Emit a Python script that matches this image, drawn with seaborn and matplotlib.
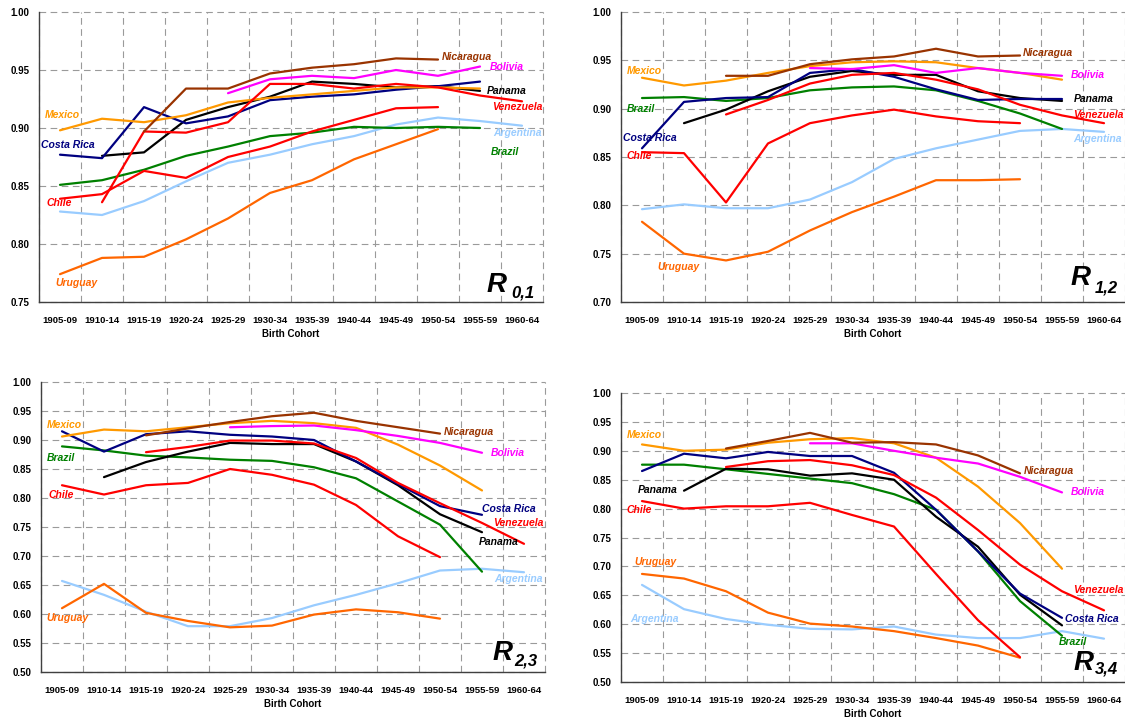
import numpy as np
import pandas as pd
import matplotlib
matplotlib.use("Agg")
import matplotlib.pyplot as plt
import seaborn as sns

# Cohortes de nacimiento (eje x)
cohorts = ['1905-09', '1910-14', '1915-19', '1920-24', '1925-29', '1930-34',
           '1935-39', '1940-44', '1945-49', '1950-54', '1955-59', '1960-64']

countries = ['Argentina', 'Uruguay', 'Brazil', 'Chile', 'Panama', 'Costa Rica',
             'Mexico', 'Venezuela', 'Bolivia', 'Nicaragua']

colors = {
    'Mexico': '#FF9900', 'Costa Rica': '#000080', 'Panama': '#000000',
    'Nicaragua': '#993300', 'Bolivia': '#FF00FF', 'Venezuela': '#FF0000',
    'Chile': '#FF0000', 'Brazil': '#008000', 'Argentina': '#99CCFF',
    'Uruguay': '#FF6600',
}

N = np.nan

# R 0,1
r01 = {
    'Mexico':     [0.898, 0.908, 0.905, 0.911, 0.922, 0.926, 0.929, 0.932, 0.935, 0.935, 0.934, N],
    'Costa Rica': [0.877, 0.874, 0.918, 0.904, 0.910, 0.924, 0.927, 0.929, 0.933, 0.936, 0.940, N],
    'Panama':     [N, 0.876, 0.879, 0.907, 0.918, 0.927, 0.940, 0.938, 0.935, 0.936, 0.932, N],
    'Nicaragua':  [N, N, 0.897, 0.934, 0.934, 0.947, 0.952, 0.955, 0.960, 0.959, N, N],
    'Bolivia':    [N, N, N, N, 0.930, 0.942, 0.945, 0.943, 0.950, 0.945, 0.953, N],
    'Venezuela':  [N, 0.836, 0.897, 0.896, 0.905, 0.938, 0.938, 0.934, 0.938, 0.935, 0.928, 0.923],
    'Chile':      [0.839, 0.843, 0.863, 0.857, 0.875, 0.884, 0.897, 0.907, 0.917, 0.918, N, N],
    'Brazil':     [0.851, 0.855, 0.864, 0.876, 0.884, 0.893, 0.896, 0.901, 0.900, 0.901, 0.900, N],
    'Argentina':  [0.828, 0.825, 0.837, 0.854, 0.870, 0.877, 0.886, 0.893, 0.903, 0.909, 0.906, 0.902],
    'Uruguay':    [0.774, 0.788, 0.789, 0.804, 0.822, 0.844, 0.855, 0.873, 0.886, 0.899, N, N],
}

# R 1,2
r12 = {
    'Mexico':     [0.932, 0.924, 0.929, 0.937, 0.944, 0.948, 0.949, 0.948, 0.942, 0.937, 0.930, N],
    'Nicaragua':  [N, N, 0.934, 0.934, 0.946, 0.951, 0.954, 0.962, 0.954, 0.955, N, N],
    'Bolivia':    [N, N, N, N, 0.942, 0.941, 0.945, 0.937, 0.942, 0.937, 0.934, N],
    'Costa Rica': [0.859, 0.907, 0.911, 0.912, 0.937, 0.941, 0.933, 0.920, 0.909, 0.910, 0.910, N],
    'Panama':     [N, 0.885, 0.899, 0.918, 0.933, 0.939, 0.935, 0.935, 0.918, 0.911, 0.908, N],
    'Venezuela':  [N, N, 0.894, 0.909, 0.926, 0.935, 0.937, 0.930, 0.920, 0.904, 0.893, 0.885],
    'Brazil':     [0.911, 0.912, 0.908, 0.911, 0.919, 0.922, 0.923, 0.919, 0.908, 0.895, 0.879, N],
    'Chile':      [0.855, 0.854, 0.803, 0.864, 0.885, 0.893, 0.899, 0.892, 0.887, 0.885, N, N],
    'Argentina':  [0.796, 0.801, 0.797, 0.797, 0.806, 0.824, 0.848, 0.859, 0.868, 0.877, 0.879, 0.876],
    'Uruguay':    [0.783, 0.750, 0.743, 0.752, 0.774, 0.793, 0.809, 0.826, 0.826, 0.827, N, N],
}

# R 2,3
r23 = {
    'Mexico':     [0.906, 0.918, 0.915, 0.922, 0.929, 0.933, 0.929, 0.921, 0.892, 0.856, 0.813, N],
    'Nicaragua':  [N, N, 0.908, 0.920, 0.931, 0.941, 0.947, 0.933, 0.922, 0.911, N, N],
    'Bolivia':    [N, N, N, N, 0.922, 0.924, 0.925, 0.917, 0.907, 0.895, 0.878, N],
    'Costa Rica': [0.915, 0.880, 0.910, 0.915, 0.909, 0.906, 0.900, 0.863, 0.824, 0.786, 0.771, N],
    'Panama':     [N, 0.836, 0.862, 0.880, 0.895, 0.893, 0.893, 0.863, 0.822, 0.772, 0.741, N],
    'Venezuela':  [N, N, 0.879, 0.888, 0.899, 0.899, 0.894, 0.869, 0.826, 0.791, 0.757, 0.721],
    'Brazil':     [0.889, 0.882, 0.873, 0.870, 0.866, 0.864, 0.853, 0.834, 0.794, 0.754, 0.673, N],
    'Chile':      [0.822, 0.806, 0.822, 0.826, 0.850, 0.840, 0.823, 0.788, 0.734, 0.698, N, N],
    'Argentina':  [0.657, 0.633, 0.604, 0.579, 0.579, 0.593, 0.615, 0.633, 0.653, 0.675, 0.678, 0.672],
    'Uruguay':    [0.610, 0.652, 0.602, 0.588, 0.577, 0.580, 0.599, 0.608, 0.603, 0.592, N, N],
}

# R 3,4
r34 = {
    'Mexico':     [0.911, 0.900, 0.902, 0.914, 0.920, 0.922, 0.913, 0.888, 0.838, 0.775, 0.696, N],
    'Nicaragua':  [N, N, 0.904, 0.917, 0.931, 0.914, 0.915, 0.911, 0.892, 0.861, N, N],
    'Bolivia':    [N, N, N, N, 0.913, 0.913, 0.900, 0.888, 0.878, 0.855, 0.828, N],
    'Costa Rica': [0.865, 0.895, 0.887, 0.898, 0.891, 0.891, 0.862, 0.798, 0.726, 0.653, 0.611, N],
    'Panama':     [N, 0.831, 0.869, 0.868, 0.857, 0.861, 0.850, 0.786, 0.734, 0.651, 0.598, N],
    'Venezuela':  [N, N, 0.872, 0.882, 0.884, 0.875, 0.858, 0.819, 0.763, 0.703, 0.657, 0.624],
    'Brazil':     [0.876, 0.876, 0.868, 0.860, 0.852, 0.844, 0.825, 0.798, 0.726, 0.640, 0.580, N],
    'Chile':      [0.813, 0.800, 0.804, 0.804, 0.810, 0.789, 0.769, 0.687, 0.607, 0.543, N, N],
    'Argentina':  [0.668, 0.626, 0.609, 0.599, 0.592, 0.591, 0.596, 0.582, 0.576, 0.576, 0.588, 0.575],
    'Uruguay':    [0.687, 0.679, 0.657, 0.620, 0.601, 0.596, 0.588, 0.576, 0.563, 0.542, N, N],
}

# posiciones de las etiquetas de país (indice de cohorte, valor)
lab01 = {'Mexico': (-0.36, 0.911), 'Costa Rica': (-0.45, 0.885), 'Chile': (-0.33, 0.835),
         'Uruguay': (-0.12, 0.766), 'Nicaragua': (9.1, 0.961), 'Bolivia': (10.24, 0.953),
         'Panama': (10.17, 0.932), 'Venezuela': (10.29, 0.918), 'Argentina': (10.31, 0.896),
         'Brazil': (10.26, 0.879)}
lab12 = {'Mexico': (-0.36, 0.939), 'Brazil': (-0.36, 0.900), 'Costa Rica': (-0.45, 0.870),
         'Chile': (-0.36, 0.851), 'Uruguay': (0.36, 0.736), 'Nicaragua': (9.07, 0.958),
         'Bolivia': (10.21, 0.935), 'Panama': (10.29, 0.910), 'Venezuela': (10.26, 0.893),
         'Argentina': (10.26, 0.869)}
lab23 = {'Mexico': (-0.36, 0.926), 'Brazil': (-0.36, 0.869), 'Chile': (-0.33, 0.805),
         'Uruguay': (-0.38, 0.593), 'Nicaragua': (9.1, 0.914), 'Bolivia': (10.21, 0.878),
         'Costa Rica': (10.0, 0.781), 'Venezuela': (10.26, 0.757), 'Panama': (9.93, 0.724),
         'Argentina': (10.29, 0.660)}
lab34 = {'Mexico': (-0.36, 0.927), 'Panama': (-0.1, 0.832), 'Chile': (-0.36, 0.798),
         'Uruguay': (-0.19, 0.708), 'Argentina': (-0.29, 0.609), 'Nicaragua': (9.1, 0.865),
         'Bolivia': (10.21, 0.829), 'Venezuela': (10.26, 0.659), 'Costa Rica': (10.07, 0.609),
         'Brazil': (9.93, 0.569)}


def to_long(data):
    rows = []
    for c in countries:
        for i, v in enumerate(data[c]):
            rows.append({'idx': i, 'country': c, 'value': v})
    return pd.DataFrame(rows).dropna()


def draw_panel(ax, data, labels, ylim, sub, rpos, spos):
    df = to_long(data)
    sns.lineplot(data=df, x='idx', y='value', hue='country', hue_order=countries,
                 palette=colors, units='country', estimator=None, sort=False,
                 linewidth=1.6, legend=False, ax=ax, zorder=3)

    ax.set_xlim(-0.5, 11.5)
    ax.set_ylim(*ylim)
    ax.set_yticks(np.arange(ylim[0], ylim[1] + 0.001, 0.05))
    ax.yaxis.set_major_formatter(matplotlib.ticker.FormatStrFormatter('%.2f'))
    ax.set_xticks(range(len(cohorts)))
    ax.set_xticklabels(cohorts)
    ax.set_xticks(np.arange(-0.5, 12, 1), minor=True)

    ax.tick_params(axis='x', which='major', length=0, pad=10, labelsize=6.8, labelcolor='black')
    ax.tick_params(axis='x', which='minor', length=4, width=0.8, direction='out', color='#404040')
    ax.tick_params(axis='y', which='major', length=3, width=0.8, direction='out',
                   color='#404040', pad=4, labelsize=7, labelcolor='black')
    for lab in ax.get_xticklabels() + ax.get_yticklabels():
        lab.set_fontweight('bold')

    ax.grid(False)
    ax.grid(True, axis='y', which='major', color='#9a9a9a', linestyle=(0, (6, 4)), linewidth=0.8)
    ax.grid(True, axis='x', which='minor', color='#9a9a9a', linestyle=(0, (6, 4)), linewidth=0.8)
    for t in ax.yaxis.get_major_ticks() + ax.xaxis.get_minor_ticks():
        t.gridline.set_clip_on(False)

    for s in ['top', 'right']:
        ax.spines[s].set_visible(False)
    for s in ['left', 'bottom']:
        ax.spines[s].set_color('#404040')
        ax.spines[s].set_linewidth(1.0)

    ax.set_xlabel('Birth Cohort', fontsize=7, fontweight='bold', labelpad=3, color='black')
    ax.set_ylabel('')

    for c, (x, y) in labels.items():
        ax.text(x, y, c, color=colors[c], fontsize=7.5, fontweight='bold',
                fontstyle='italic', ha='left', va='center', zorder=4)

    ax.text(rpos[0], rpos[1], 'R', transform=ax.transAxes, fontsize=20, color='black',
            fontweight='bold', fontstyle='italic', ha='left', va='baseline')
    ax.text(spos[0], spos[1], sub, transform=ax.transAxes, fontsize=12, color='black',
            fontweight='bold', fontstyle='italic', ha='left', va='baseline')


sns.set_style('white')
plt.rcParams['font.family'] = ['Liberation Sans', 'DejaVu Sans']
plt.rcParams['text.color'] = 'black'

fig = plt.figure(figsize=(11.25, 7.24), dpi=100, facecolor='white')

ax1 = fig.add_axes([0.03467, 0.58287, 0.448, 0.40055])
ax2 = fig.add_axes([0.552, 0.58287, 0.448, 0.40055])
ax3 = fig.add_axes([0.03644, 0.07182, 0.448, 0.40055])
ax4 = fig.add_axes([0.552, 0.05801, 0.448, 0.39917])

draw_panel(ax1, r01, lab01, (0.75, 1.00), '0,1', (0.888, 0.034), (0.938, 0.017))
draw_panel(ax2, r12, lab12, (0.50 + 0.20, 1.00), '1,2', (0.892, 0.059), (0.940, 0.034))
draw_panel(ax3, r23, lab23, (0.50, 1.00), '2,3', (0.896, 0.041), (0.940, 0.024))
draw_panel(ax4, r34, lab34, (0.50, 1.00), '3,4', (0.897, 0.042), (0.940, 0.031))

fig.savefig('out.png', dpi=100, facecolor='white')
